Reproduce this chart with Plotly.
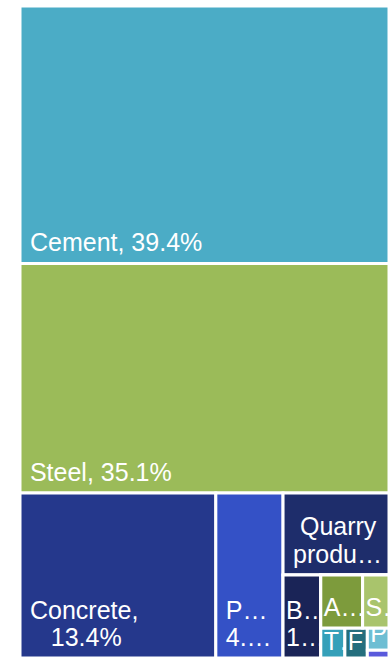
import plotly.graph_objects as go

# Material shares (%)
materials = ["Cement", "Steel", "Concrete", "Plastics", "Quarry products",
             "Bricks", "Aluminium", "Stone", "Timber", "Flat glass", "Paint", "Other"]
shares = [39.4, 35.1, 13.4, 4.6, 3.6, 1.3, 0.92, 0.58, 0.30, 0.28, 0.20, 0.07]
material_parent = ["", "", "", "", "", "Smaller materials", "Metals & stone", "Metals & stone",
                   "Minor materials", "Minor materials", "Minor materials", "Minor materials"]
NB = "\u00a0"
TAIL = "<sub>" + NB + "</sub>"


def first_line(s):
    # first line nudged down a little so the two lines sit closer together
    return '<sub style="font-size:11px"><span style="font-size:25px">' + s + "</span></sub>"


# Labels as they are shown (truncated) in the tiles
shown = [NB + "Cement, 39.4%" + TAIL,
         NB + "Steel, 35.1%" + TAIL,
         first_line(NB + "Concrete,") + "<br>" + NB * 4 + "13.4%" + TAIL,
         first_line(NB + "P…") + "<br>" + NB + "4.…" + TAIL,
         first_line(NB * 2 + "Quarry") + "<br>" + NB + "produ…" + TAIL,
         first_line("B…") + "<br>1…" + TAIL, "A…" + TAIL, "S…" + TAIL, "T…", "F…", "P…", ""]
colors = ["#4bacc6", "#9bbb59", "#25388c", "#3451c6", "#1e2d6b",
          "#1a2457", "#7d9b3c", "#a9c46c", "#35a0b9", "#246e7d", "#6ebed3", "#5a5adc"]

# grouping nodes (not labelled) that give the tile arrangement
groups = ["Smaller materials", "Minor materials", "Metals & stone"]
group_parent = ["", "Smaller materials", "Minor materials"]

lab, par, val, txt, col = [], [], [], [], []


def add_leaf(i):
    lab.append(materials[i]); par.append(material_parent[i]); val.append(shares[i])
    txt.append(shown[i]); col.append(colors[i])


def add_group(g):
    j = groups.index(g)
    lab.append(g); par.append(group_parent[j]); val.append(0); txt.append(""); col.append("#ffffff")


for i in range(5):
    add_leaf(i)
add_group("Smaller materials")
add_leaf(5)
add_group("Minor materials")
add_group("Metals & stone")
add_leaf(6); add_leaf(7)
for i in range(8, 12):
    add_leaf(i)

fig = go.Figure(go.Treemap(
    labels=lab, parents=par, values=val, text=txt,
    branchvalues="remainder", sort=False,
    texttemplate="%{text}", textposition="bottom left",
    textfont=dict(family="Liberation Sans, Arial, sans-serif", size=25, color="white"),
    marker=dict(colors=col, line=dict(color="white", width=3),
                pad=dict(t=0, l=0, r=0, b=0)),
    tiling=dict(packing="binary", pad=0),
    pathbar=dict(visible=False),
    hoverinfo="skip",
))
fig.update_layout(width=389, height=658, margin=dict(l=20, r=0, t=6, b=0),
                  paper_bgcolor="white",
                  uniformtext=dict(minsize=25, mode="show"))
fig.write_html("out.html")
